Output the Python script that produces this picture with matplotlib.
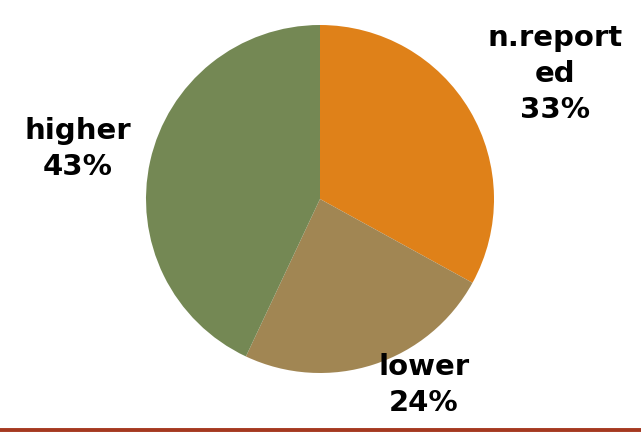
import matplotlib
matplotlib.use("Agg")
import matplotlib.pyplot as plt

# Share of responses by category
categories = ["n.report\ned", "lower", "higher"]
shares = [33, 24, 43]
colors = ["#DF8119", "#A18653", "#748854"]

W, H = 641, 432
fig = plt.figure(figsize=(W / 100, H / 100), dpi=100)
ax = fig.add_axes([0, 0, 1, 1])

cx, cy, r = 320, H - 199, 174
ax.pie(shares, colors=colors, startangle=90, counterclock=False,
       center=(cx, cy), radius=r, frame=True,
       wedgeprops=dict(linewidth=0))
ax.set_xlim(0, W)
ax.set_ylim(0, H)
ax.set_aspect("equal")
ax.axis("off")

# Category labels with percentages
label_pos = [(555, H - 74), (424, H - 385), (78, H - 149)]
for name, val, (x, y) in zip(categories, shares, label_pos):
    ax.text(x, y, f"{name}\n{val}%", ha="center", va="center",
            fontsize=21, fontweight="bold", color="#000000",
            linespacing=1.38, family="DejaVu Sans")

# Rule along the bottom edge
ax.plot([0, W], [2.5, 2.5], color="#A5381F", linewidth=2.8,
        solid_capstyle="butt")

fig.savefig("out.png", dpi=100)
